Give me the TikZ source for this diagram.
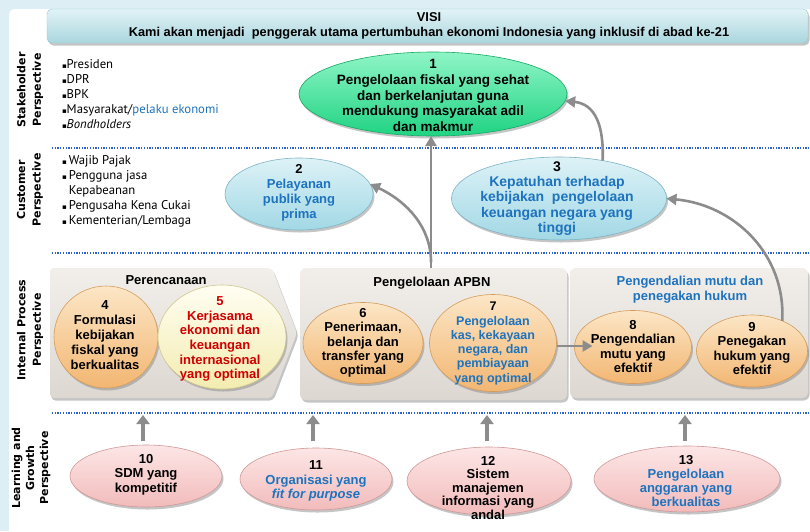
\documentclass[tikz,border=0pt]{standalone}
\usepackage{fontspec}
\setmainfont{PT Sans}
\newfontfamily\symf{DejaVu Sans}
\newfontfamily\perspf{DejaVu Sans}
\newfontfamily\boldf{Liberation Sans}
\usetikzlibrary{shapes.geometric,arrows.meta,shadows}
\definecolor{bgblue}{HTML}{DDEFF4}
\definecolor{txtblue}{HTML}{1E73BE}
\definecolor{txtred}{HTML}{D00000}
\definecolor{arrgray}{HTML}{8C8C8C}
\definecolor{dotblue}{HTML}{2F5FC8}
\definecolor{gT}{HTML}{8FF5C6}\definecolor{gB}{HTML}{1FD382}\definecolor{gD}{HTML}{17A865}
\definecolor{lT}{HTML}{DDF2F7}\definecolor{lB}{HTML}{A2D8E5}\definecolor{lD}{HTML}{7DB5C5}
\definecolor{oT}{HTML}{FCE6C6}\definecolor{oB}{HTML}{F2B672}\definecolor{oD}{HTML}{D49C5C}
\definecolor{yT}{HTML}{FFFEF2}\definecolor{yB}{HTML}{F3ECB0}\definecolor{yD}{HTML}{D2C88E}
\definecolor{pT}{HTML}{FDE6E6}\definecolor{pB}{HTML}{F2BBBB}\definecolor{pD}{HTML}{D09898}
\definecolor{vT}{HTML}{E2F3F6}\definecolor{vB}{HTML}{A9D6DE}\definecolor{vD}{HTML}{98C8D2}
\definecolor{grT}{HTML}{F2EFEB}\definecolor{grB}{HTML}{DCD7D1}
\newcommand{\fs}[2]{\boldf\fontsize{#1}{#2}\selectfont\bfseries}
\tikzset{
 every node/.style={inner sep=0pt,outer sep=0pt},
 shad/.style={drop shadow={shadow xshift=1.5pt,shadow yshift=-2.5pt,opacity=.45}},
 ell/.style={ellipse,shad,line width=.6pt},
 greenell/.style={ell,draw=gD,top color=gT,bottom color=gB},
 lbell/.style={ell,draw=lD,top color=lT,bottom color=lB},
 orell/.style={ell,draw=oD,top color=oT,bottom color=oB},
 yeell/.style={ell,draw=yD,top color=yT,bottom color=yB},
 pkell/.style={ell,draw=pD,top color=pT,bottom color=pB},
 grp/.style={rounded corners=6pt,top color=grT,bottom color=grB,shad},
 tx/.style={align=center,font=\fs{13}{14.5}},
 bul/.style={align=left,anchor=north west,font=\fontsize{12.7}{14.8}\selectfont},
 persp/.style={rotate=90,align=center,font=\perspf\fontsize{11}{15.5}\selectfont\bfseries},
 arr/.style={draw=arrgray,line width=2.6pt,-{Triangle[length=10pt,width=11pt]}},
 arrb/.style={draw=arrgray,line width=3.5pt,-{Triangle[length=9pt,width=13pt]}},
 dotl/.style={dotblue,line width=1.3pt,dash pattern=on 1.3pt off 1.4pt}
}
\begin{document}
\begin{tikzpicture}[x=1pt,y=-1pt]
\useasboundingbox (0,0) rectangle (810,531);
\fill[bgblue] (0,0) rectangle (810,531);
\fill[white,rounded corners=6pt] (9,9) rectangle (830,550);
% VISI bar
\node[rounded corners=5pt,draw=vD,top color=vT,bottom color=vB,shad,minimum width=761pt,minimum height=34pt] (visi) at (427.5,26) {};
\node[tx,font=\fs{12.8}{15}] (visit) at (429,26) {VISI\\Kami akan menjadi \ penggerak utama pertumbuhan ekonomi Indonesia yang inklusif di abad ke-21};
% perspective labels
\node[persp] (p1) at (30,90) {Stakeholder\\Perspective};
\node[persp] (p2) at (30,190) {Customer\\Perspective};
\node[persp] (p3) at (30,330) {Internal Process\\Perspective};
\node[persp,font=\perspf\fontsize{11}{14}\selectfont\bfseries] (p4) at (31,468) {Learning and\\Growth\\Perspective};
% dotted separators
\draw[dotl] (52,148) -- (810,148);
\draw[dotl] (52,253) -- (810,253);
\draw[dotl] (52,413) -- (810,413);
% bullets
\node[bul] (sh) at (62,60) {{\symf\scriptsize ▪}Presiden\\{\symf\scriptsize ▪}DPR\\{\symf\scriptsize ▪}BPK\\{\symf\scriptsize ▪}Masyarakat/\textcolor{txtblue}{pelaku ekonomi}\\{\symf\scriptsize ▪}\textit{Bondholders}};
\node[bul,font=\fontsize{12.7}{15}\selectfont] (cu) at (62,156) {{\symf\scriptsize ▪}\,Wajib Pajak\\{\symf\scriptsize ▪}\,Pengguna jasa\\\phantom{{\symf\scriptsize ▪}\,}Kepabeanan\\{\symf\scriptsize ▪}\,Pengusaha Kena Cukai\\{\symf\scriptsize ▪}\,Kementerian/Lembaga};
% group boxes
\path[rounded corners=4pt,top color=grT,bottom color=grB,shad] (50,268) -- (272,268) -- (297,333) -- (272,398) -- (50,398) -- cycle;
\node[grp,minimum width=267pt,minimum height=132pt] (g2) at (433.5,334) {};
\node[grp,minimum width=238pt,minimum height=130pt] (g3) at (689,333) {};
\node[tx] (g1t) at (166,280) {Perencanaan};
\node[tx] (g2t) at (432,283) {Pengelolaan APBN};
\node[tx,text=txtblue,font=\fs{13}{15}] (g3t) at (690,289.5) {Pengendalian mutu dan\\penegakan hukum};
% ellipses
\node[greenell,minimum width=268pt,minimum height=84pt] (e1) at (433,94) {};
\node[tx,font=\fs{13.5}{15.6}] at (433,95.5) {1\\Pengelolaan fiskal yang sehat\\dan berkelanjutan guna\\mendukung masyarakat adil\\dan makmur};
\node[lbell,minimum width=148pt,minimum height=72pt] (e2) at (299,194) {};
\node[tx,text=txtblue,font=\fs{13}{15}] at (299,193) {\textcolor{black}{2}\\Pelayanan\\publik yang\\prima};
\node[lbell,minimum width=215pt,minimum height=83pt] (e3) at (559,198.5) {};
\node[tx,text=txtblue,font=\fs{14}{15.2}] at (557,198.5) {\textcolor{black}{3}\\Kepatuhan terhadap\\kebijakan \ pengelolaan\\keuangan negara yang\\tinggi};
\node[orell,minimum width=104pt,minimum height=102pt] (e4) at (106,337) {};
\node[tx,font=\fs{13}{15}] at (105,335) {4\\Formulasi\\kebijakan\\fiskal yang\\berkualitas};
\node[yeell,minimum width=128pt,minimum height=104pt] (e5) at (222,337) {};
\node[tx,text=txtred,font=\fs{13}{14.6}] at (220,339) {5\\Kerjasama\\ekonomi dan\\keuangan\\internasional\\yang optimal};
\node[orell,minimum width=120pt,minimum height=81pt] (e6) at (363,343) {};
\node[tx,font=\fs{13}{14.2}] at (363,343) {6\\Penerimaan,\\belanja dan\\transfer yang\\optimal};
\node[orell,minimum width=127pt,minimum height=97pt] (e7) at (493,343) {};
\node[tx,text=txtblue,font=\fs{12.5}{14.3}] at (493,343.5) {\textcolor{black}{7}\\Pengelolaan\\kas, kekayaan\\negara, dan\\pembiayaan\\yang optimal};
\node[orell,minimum width=117pt,minimum height=73pt] (e8) at (633,347) {};
\node[tx,font=\fs{13}{14.5}] at (633,346.5) {8\\Pengendalian\\mutu yang\\efektif};
\node[orell,minimum width=111pt,minimum height=72pt] (e9) at (752,351) {};
\node[tx,font=\fs{13}{14.5}] at (752,348.5) {9\\Penegakan\\hukum yang\\efektif};
\node[pkell,minimum width=152pt,minimum height=62pt] (e10) at (146,476) {};
\node[tx,font=\fs{13}{14.5}] at (146,474.5) {10\\SDM yang\\kompetitif};
\node[pkell,minimum width=152pt,minimum height=62pt] (e11) at (316,479) {};
\node[tx,text=txtblue,font=\fs{13}{14.5}] at (316,481) {\textcolor{black}{11}\\Organisasi yang\\\textit{fit for purpose}};
\node[pkell,minimum width=164pt,minimum height=68pt] (e12) at (489,481) {};
\node[tx,font=\fs{13}{13.5}] at (488,488) {12\\Sistem\\manajemen\\informasi yang\\andal};
\node[pkell,minimum width=186pt,minimum height=66pt] (e13) at (687,479) {};
\node[tx,text=txtblue,font=\fs{13}{14}] at (686,481.5) {\textcolor{black}{13}\\Pengelolaan\\anggaran yang\\berkualitas};
% arrows
\coordinate (a2s) at (431,262);
\draw[arr] (g2.north -| 431,0) -- (431,136);
\draw[arr] (a2s) .. controls (431,228) and (408,202) .. (e2.8);
\draw[arr] (e9.45) .. controls (786,255) and (735,205) .. (e3.east);
\draw[arr] (e3.41) .. controls (604,125) and (595,104) .. (e1.-3);
\draw[arr] ([yshift=-3pt]e7.east) -- ([xshift=18pt,yshift=1pt]e8.west);
\coordinate (t10) at (143,415);
\coordinate (t11) at (313,415);
\coordinate (t12) at (487,415);
\coordinate (t13) at (685,415);
\draw[arrb] (143,441) -- (t10);
\draw[arrb] (313,441) -- (t11);
\draw[arrb] (487,441) -- (t12);
\draw[arrb] (685,441) -- (t13);
\end{tikzpicture}
\end{document}
